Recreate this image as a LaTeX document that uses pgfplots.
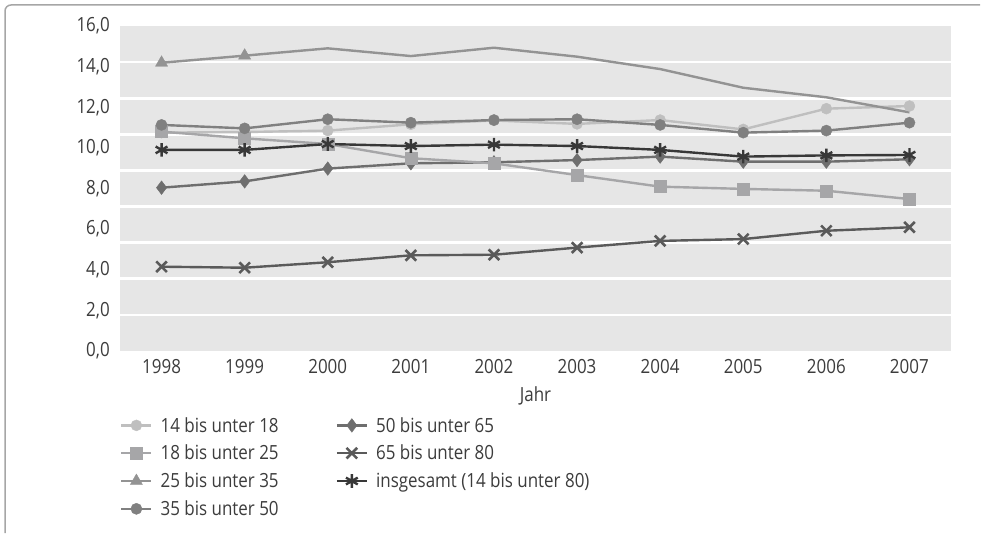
\documentclass[border=0pt]{standalone}
\usepackage{pgfplots}
\pgfplotsset{compat=1.18}
\usepackage{fontspec}
\setmainfont{Open Sans}[FakeStretch=0.87]
\definecolor{frame}{HTML}{A6A6A6}
\definecolor{bgc}{HTML}{E6E6E6}
\definecolor{cA}{HTML}{BFBFBF}
\definecolor{cB}{HTML}{A6A6A8}
\definecolor{cC}{HTML}{939393}
\definecolor{cD}{HTML}{808080}
\definecolor{cE}{HTML}{6E6E6E}
\definecolor{cF}{HTML}{5A5A5A}
\definecolor{cG}{HTML}{383838}
\definecolor{txt}{HTML}{3C3C3C}
\begin{document}
\begin{tikzpicture}
\useasboundingbox (0,0) rectangle (981pt,533pt);
\draw[color=frame, line width=1.5pt, rounded corners=6pt] (5pt,0pt) -- (5pt,528pt) -- (980pt,528pt);
\begin{axis}[
  at={(120pt,182pt)}, anchor=south west,
  scale only axis, width=831pt, height=325pt,
  xmin=1997.5, xmax=2007.5, ymin=0, ymax=16,
  xtick={1998,1999,...,2007}, ytick={0,2,...,16},
  /pgf/number format/assume math mode=true,
  xticklabel style={/pgf/number format/1000 sep={}, inner sep=0pt, anchor=north, yshift=-8pt, font=\fontsize{19.5pt}{22pt}\selectfont, text=txt},
  yticklabel style={/pgf/number format/.cd, fixed, fixed zerofill, precision=1, use comma, /tikz/.cd, inner sep=0pt, anchor=east, xshift=-10pt, font=\fontsize{19.5pt}{22pt}\selectfont, text=txt},
  tick style={draw=none},
  axis line style={draw=none},
  axis background/.style={fill=bgc},
  extra y ticks={1.77778,3.55556,5.33333,7.11111,8.88889,10.66667,12.44444,14.22222},
  extra y tick labels={},
  extra y tick style={grid=major, major grid style={white, line width=2.6pt}},
  xlabel={Jahr},
  xlabel style={at={(axis description cs:0.5,0)}, anchor=north, yshift=-35pt, inner sep=0pt, font=\fontsize{19.5pt}{22pt}\selectfont, text=txt},
  legend image code/.code={\draw[mark repeat=2, mark phase=2] plot coordinates {(0pt,0pt) (15pt,0pt) (30pt,0pt)};},
  legend columns=2,
  legend cell align=left,
  legend style={at={(axis description cs:0,-0.197)}, anchor=north west, draw=none, fill=none,
    font=\fontsize{19.5pt}{22pt}\selectfont, text=txt, inner sep=0pt, row sep=7.5pt,
    /tikz/column 1/.style={column sep=6pt},
    /tikz/column 2/.style={column sep=55pt},
    /tikz/column 3/.style={column sep=6pt}},
]
\addplot[forget plot, cA, line width=2.4pt, mark=*, mark size=5.5pt, mark options={line width=0.4pt}] coordinates {
(1998,10.75) (1999,10.78) (2000,10.85) (2001,11.16) (2002,11.35) (2003,11.18) (2004,11.37) (2005,10.91) (2006,11.93) (2007,12.06)};
\addplot[forget plot, cE, line width=2.4pt, mark=diamond*, mark size=6.8pt, mark options={line width=0.4pt}] coordinates {
(1998,8.04) (1999,8.35) (2000,8.98) (2001,9.24) (2002,9.29) (2003,9.40) (2004,9.57) (2005,9.32) (2006,9.32) (2007,9.44)};
\addplot[forget plot, cB, line width=2.4pt, mark=square*, mark size=6pt, mark options={line width=0.4pt}] coordinates {
(1998,10.80) (1999,10.47) (2000,10.19) (2001,9.49) (2002,9.24) (2003,8.66) (2004,8.09) (2005,7.98) (2006,7.89) (2007,7.48)};
\addplot[forget plot, cC, line width=2.4pt, mark=triangle*, mark size=7pt, mark indices={1,2}, mark options={line width=0.4pt}] coordinates {
(1998,14.19) (1999,14.54) (2000,14.90) (2001,14.52) (2002,14.93) (2003,14.49) (2004,13.88) (2005,12.96) (2006,12.49) (2007,11.75)};
\addplot[forget plot, cD, line width=2.4pt, mark=*, mark size=5.6pt, mark options={line width=0.4pt}] coordinates {
(1998,11.13) (1999,10.96) (2000,11.41) (2001,11.24) (2002,11.37) (2003,11.41) (2004,11.13) (2005,10.75) (2006,10.85) (2007,11.24)};
\addplot[forget plot, cF, line width=2.4pt, mark=x, mark size=7.5pt, mark options={line width=2.6pt}] coordinates {
(1998,4.15) (1999,4.10) (2000,4.37) (2001,4.71) (2002,4.74) (2003,5.09) (2004,5.42) (2005,5.51) (2006,5.92) (2007,6.09)};
\addplot[forget plot, cG, line width=2.4pt, mark=asterisk, mark size=6.8pt, mark options={line width=2.4pt}] coordinates {
(1998,9.90) (1999,9.90) (2000,10.19) (2001,10.09) (2002,10.16) (2003,10.09) (2004,9.90) (2005,9.57) (2006,9.63) (2007,9.65)};

\addlegendimage{cA, line width=2.4pt, mark=*, mark size=5.5pt, mark options={line width=0.4pt}}
\addlegendentry{14 bis unter 18}
\addlegendimage{cE, line width=2.4pt, mark=diamond*, mark size=6.8pt, mark options={line width=0.4pt}}
\addlegendentry{50 bis unter 65}
\addlegendimage{cB, line width=2.4pt, mark=square*, mark size=6pt, mark options={line width=0.4pt}}
\addlegendentry{18 bis unter 25}
\addlegendimage{cF, line width=2.4pt, mark=x, mark size=7.5pt, mark options={line width=2.6pt}}
\addlegendentry{65 bis unter 80}
\addlegendimage{cC, line width=2.4pt, mark=triangle*, mark size=7pt, mark options={line width=0.4pt}}
\addlegendentry{25 bis unter 35}
\addlegendimage{cG, line width=2.4pt, mark=asterisk, mark size=6.8pt, mark options={line width=2.4pt}}
\addlegendentry{insgesamt (14 bis unter 80)}
\addlegendimage{cD, line width=2.4pt, mark=*, mark size=5.6pt, mark options={line width=0.4pt}}
\addlegendentry{35 bis unter 50}
\end{axis}
\end{tikzpicture}
\end{document}
